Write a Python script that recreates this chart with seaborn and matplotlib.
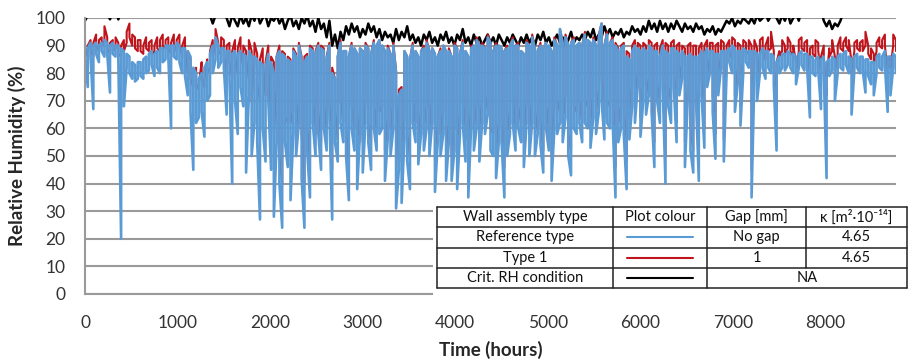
import pandas as pd
import seaborn as sns
import matplotlib.pyplot as plt
from matplotlib.patches import Rectangle
from matplotlib.lines import Line2D

# time axis: one reading every 30 h over the year
hours = list(range(0, 8761, 30))

# Reference type (blue): highest and lowest RH inside each 30 h step
rh_ref_hi = [
    90, 89, 91, 90, 91, 90, 91, 92, 91, 90,
    91, 90, 90, 89, 88, 87, 86, 84, 83, 84,
    84, 85, 86, 87, 88, 87, 88, 89, 89, 90,
    90, 90, 90, 91, 90, 89, 89, 88, 86, 82,
    80, 78, 80, 82, 84, 87, 90, 93, 90, 89,
    89, 88, 88, 87, 88, 87, 88, 87, 86, 88,
    86, 86, 85, 84, 83, 82, 87, 84, 80, 86,
    88, 87, 86, 85, 84, 88, 86, 90, 85, 84,
    86, 89, 88, 87, 90, 89, 88, 85, 90, 80,
    78, 86, 91, 88, 88, 86, 90, 89, 87, 89,
    88, 90, 89, 87, 91, 90, 92, 90, 88, 89,
    87, 90, 80, 72, 74, 88, 86, 85, 90, 88,
    86, 88, 89, 91, 88, 89, 87, 86, 88, 90,
    88, 88, 86, 90, 89, 87, 91, 88, 86, 89,
    90, 92, 90, 90, 89, 93, 91, 88, 90, 90,
    89, 88, 89, 90, 92, 90, 90, 88, 87, 91,
    90, 93, 89, 88, 90, 89, 91, 90, 88, 92,
    90, 96, 91, 93, 90, 91, 92, 90, 91, 90,
    94, 92, 91, 92, 90, 93, 98, 90, 94, 91,
    92, 90, 88, 89, 90, 86, 85, 88, 90, 89,
    88, 89, 88, 90, 89, 88, 88, 86, 90, 88,
    87, 89, 89, 88, 87, 88, 86, 86, 87, 86,
    86, 86, 88, 87, 89, 88, 88, 87, 87, 88,
    88, 88, 89, 90, 89, 88, 88, 89, 88, 88,
    88, 88, 87, 87, 89, 88, 88, 87, 86, 84,
    86, 87, 87, 88, 87, 87, 86, 87, 88, 87,
    87, 86, 86, 85, 86, 85, 86, 84, 85, 86,
    85, 86, 87, 87, 88, 86, 85, 86, 87, 86,
    86, 85, 85, 84, 84, 86, 87, 86, 88, 86,
    86, 87, 86,
]
rh_ref_lo = [
    85, 75, 86, 67, 87, 84, 88, 86, 87, 73,
    87, 86, 85, 20, 68, 82, 80, 78, 77, 78,
    79, 78, 80, 81, 83, 79, 82, 80, 84, 85,
    86, 60, 86, 85, 84, 80, 79, 72, 66, 45,
    62, 64, 66, 57, 70, 72, 80, 85, 82, 84,
    82, 65, 78, 40, 70, 58, 75, 68, 44, 72,
    50, 62, 55, 27, 60, 48, 70, 45, 28, 55,
    40, 24, 55, 46, 34, 58, 50, 62, 42, 24,
    52, 35, 62, 50, 58, 45, 60, 52, 64, 27,
    55, 48, 62, 55, 50, 34, 60, 52, 38, 58,
    44, 62, 55, 45, 60, 52, 58, 60, 41, 56,
    50, 60, 31, 45, 33, 56, 48, 38, 62, 55,
    47, 58, 52, 60, 50, 62, 37, 55, 50, 58,
    41, 55, 41, 52, 38, 58, 62, 48, 35, 60,
    52, 60, 48, 62, 58, 65, 52, 50, 42, 55,
    55, 35, 50, 58, 62, 52, 60, 55, 46, 62,
    50, 62, 50, 58, 54, 44, 60, 52, 41, 60,
    58, 62, 55, 64, 50, 43, 60, 58, 62, 55,
    62, 60, 53, 64, 58, 66, 70, 56, 62, 60,
    62, 35, 55, 60, 58, 38, 56, 68, 62, 75,
    57, 70, 65, 72, 66, 46, 70, 62, 75, 40,
    68, 62, 75, 55, 72, 78, 46, 70, 52, 44,
    70, 41, 72, 53, 75, 80, 66, 49, 72, 82,
    48, 80, 84, 80, 66, 76, 61, 80, 84, 82,
    35, 78, 70, 80, 82, 78, 82, 80, 76, 52,
    80, 82, 81, 83, 82, 80, 76, 82, 83, 81,
    82, 64, 80, 79, 81, 67, 80, 42, 79, 81,
    70, 80, 82, 81, 83, 80, 65, 81, 82, 80,
    81, 73, 79, 76, 72, 80, 82, 81, 83, 66,
    72, 82, 80,
]

# Type 1 (red): highest and lowest RH inside each 30 h step
rh_t1_hi = [
    93, 90, 92, 91, 94, 92, 93, 97, 93, 91,
    92, 93, 91, 90, 92, 95, 98, 94, 93, 92,
    92, 90, 93, 91, 92, 90, 93, 92, 94, 92,
    93, 91, 94, 92, 94, 90, 93, 88, 85, 80,
    82, 76, 84, 78, 85, 88, 92, 96, 91, 93,
    92, 90, 91, 88, 92, 89, 93, 90, 88, 92,
    88, 91, 87, 85, 89, 84, 90, 86, 84, 86,
    90, 88, 87, 86, 85, 89, 87, 91, 86, 86,
    87, 90, 89, 88, 91, 90, 89, 86, 91, 82,
    78, 86, 92, 88, 88, 86, 91, 89, 87, 89,
    88, 91, 89, 87, 92, 90, 92, 90, 88, 90,
    87, 91, 81, 74, 75, 88, 86, 85, 91, 88,
    86, 88, 90, 92, 88, 89, 87, 86, 89, 90,
    88, 89, 86, 91, 89, 87, 92, 88, 86, 90,
    90, 93, 90, 91, 89, 94, 91, 88, 91, 90,
    89, 88, 90, 90, 93, 90, 91, 88, 87, 92,
    90, 94, 89, 88, 91, 89, 91, 90, 88, 93,
    90, 96, 91, 94, 90, 91, 93, 90, 91, 90,
    95, 92, 91, 93, 90, 94, 98, 90, 95, 91,
    93, 91, 89, 90, 91, 88, 87, 90, 92, 91,
    90, 91, 90, 92, 91, 90, 91, 89, 92, 91,
    90, 91, 92, 90, 91, 90, 89, 90, 91, 90,
    90, 89, 91, 90, 92, 91, 91, 90, 91, 92,
    91, 90, 92, 93, 92, 91, 90, 92, 91, 92,
    90, 92, 89, 92, 93, 90, 93, 95, 88, 84,
    88, 92, 90, 93, 91, 90, 84, 92, 93, 91,
    92, 89, 90, 92, 91, 86, 90, 78, 89, 92,
    86, 90, 93, 91, 93, 92, 84, 91, 92, 91,
    92, 95, 90, 89, 87, 91, 93, 92, 94, 84,
    86, 94, 92,
]
rh_t1_lo = [
    89, 86, 88, 86, 90, 88, 89, 92, 89, 87,
    88, 89, 87, 86, 88, 91, 93, 90, 89, 88,
    88, 87, 89, 88, 88, 87, 89, 88, 90, 89,
    89, 87, 90, 88, 90, 86, 89, 80, 78, 75,
    76, 74, 78, 75, 80, 82, 86, 90, 87, 88,
    86, 80, 84, 78, 86, 80, 88, 82, 78, 85,
    70, 84, 76, 70, 82, 72, 85, 62, 58, 75,
    50, 40, 62, 64, 62, 66, 58, 70, 58, 40,
    60, 48, 70, 58, 66, 55, 68, 60, 70, 45,
    66, 56, 70, 62, 60, 45, 68, 60, 50, 66,
    55, 70, 62, 55, 68, 60, 66, 68, 52, 64,
    60, 68, 45, 72, 48, 64, 58, 50, 70, 62,
    56, 66, 60, 68, 58, 70, 48, 62, 58, 66,
    52, 62, 50, 60, 48, 66, 70, 56, 46, 68,
    60, 68, 56, 70, 66, 72, 60, 58, 52, 62,
    62, 46, 58, 66, 70, 60, 68, 62, 55, 70,
    58, 70, 58, 66, 62, 52, 68, 60, 50, 68,
    66, 70, 62, 72, 58, 52, 68, 66, 70, 62,
    70, 68, 60, 72, 66, 74, 78, 64, 70, 68,
    70, 46, 62, 68, 66, 48, 64, 76, 70, 80,
    64, 76, 72, 78, 72, 55, 76, 70, 80, 50,
    75, 70, 80, 62, 78, 83, 55, 76, 60, 52,
    76, 50, 78, 60, 80, 85, 72, 58, 78, 86,
    56, 85, 88, 85, 72, 82, 68, 86, 88, 87,
    45, 86, 76, 87, 88, 85, 88, 89, 82, 66,
    86, 88, 87, 89, 88, 86, 80, 88, 89, 88,
    88, 76, 87, 86, 88, 80, 86, 72, 86, 88,
    80, 87, 89, 88, 90, 88, 80, 88, 89, 88,
    88, 90, 87, 85, 83, 88, 90, 89, 90, 80,
    82, 90, 88,
]

# critical RH condition (black), goes above 100 outside summer
rh_crit = [
    99, 101, 102, 103, 102, 103, 104, 103, 102, 99.5,
    103, 104, 99.5, 103, 104, 103, 104, 103, 104, 104,
    104, 103, 104, 105, 104, 103, 104, 105, 104, 103,
    104, 103, 102, 103, 104, 103, 102, 103, 101, 102,
    101, 102, 101, 100.5, 102, 101, 98, 101, 102, 101,
    101, 100, 97, 101, 99, 97, 101, 98, 100, 97,
    101, 99, 102, 98, 100, 101, 97, 100, 99, 101,
    98, 100, 96, 99, 101, 97, 99, 96, 100, 98,
    101, 97, 99, 95, 100, 96, 98, 93, 99, 90,
    94, 89, 95, 92, 97, 94, 98, 95, 97, 93,
    96, 94, 98, 95, 97, 93, 96, 92, 95, 93,
    94, 91, 96, 92, 95, 93, 97, 92, 94, 91,
    93, 90, 94, 92, 95, 91, 93, 90, 94, 92,
    95, 91, 93, 90, 94, 92, 96, 91, 93, 90,
    94, 91, 93, 90, 92, 94, 91, 93, 90, 94,
    92, 90, 93, 91, 94, 92, 90, 93, 91, 94,
    91, 93, 90, 94, 92, 95, 91, 93, 90, 92,
    94, 91, 93, 90, 92, 95, 91, 93, 92, 94,
    92, 95, 93, 96, 92, 94, 93, 97, 94, 96,
    93, 95, 94, 96, 93, 95, 94, 97, 95, 96,
    94, 97, 95, 99, 96, 98, 95, 99, 96, 98,
    95, 98, 96, 99, 97, 95, 98, 96, 97, 95,
    98, 96, 97, 94, 96, 95, 97, 94, 96, 95,
    97, 99, 98, 100, 97, 99, 98, 100, 99, 98,
    100, 98, 101, 99, 100, 102, 99, 101, 103, 100,
    98, 101, 99, 102, 98, 100, 102, 99, 103, 101,
    102, 104, 103, 102, 104, 103, 99, 97, 99, 96,
    98, 97, 99, 102, 103, 104, 103, 104, 105, 104,
    103, 104, 105, 104, 103, 104, 105, 104, 103, 104,
    103, 104, 103,
]

table_header = ["Wall assembly type", "Plot colour", "Gap [mm]", "κ [m²·10⁻¹⁴]"]
table_rows = [
    ["Reference type", "No gap", "4.65"],
    ["Type 1", "1", "4.65"],
    ["Crit. RH condition", "NA"],
]

c_ref = "#5b9bd5"
c_t1 = "#c0141c"
c_crit = "#000000"
grid_c = "#9a9a9a"


def zigzag(hi, lo):
    # within each step go high->low, then low->high in the next one
    rows = []
    for i, h in enumerate(hours):
        pair = [hi[i], lo[i]] if i % 2 == 0 else [lo[i], hi[i]]
        for v in pair:
            rows.append({"hours": h, "rh": v})
    return pd.DataFrame(rows)


df_ref = zigzag(rh_ref_hi, rh_ref_lo)
df_t1 = zigzag(rh_t1_hi, rh_t1_lo)
df_crit = pd.DataFrame({"hours": hours, "rh": rh_crit})

sns.set_style("white")
plt.rcParams["font.family"] = ["Lato", "DejaVu Sans"]

W, H = 913, 362
fig = plt.figure(figsize=(W / 100, H / 100), dpi=100)
ax = fig.add_axes([85 / W, 1 - 294 / H, (896 - 85) / W, (294 - 18) / H])

sns.lineplot(data=df_crit, x="hours", y="rh", color=c_crit, lw=1.8, ax=ax)
sns.lineplot(data=df_t1, x="hours", y="rh", color=c_t1, lw=1.5, sort=False,
             estimator=None, ax=ax)
sns.lineplot(data=df_ref, x="hours", y="rh", color=c_ref, lw=1.9, sort=False,
             estimator=None, ax=ax)

ax.set_xlim(0, 8760)
ax.set_ylim(0, 100)
ax.set_xticks(range(0, 8001, 1000))
ax.set_yticks(range(0, 101, 10))
ax.set_axisbelow(True)
ax.grid(axis="y", color=grid_c, lw=1.5)
for s in ["top", "right"]:
    ax.spines[s].set_visible(False)
for s in ["left", "bottom"]:
    ax.spines[s].set_color(grid_c)
    ax.spines[s].set_linewidth(1.5)
ax.tick_params(axis="both", colors=grid_c, length=4, width=1.2, labelsize=12.5,
               labelcolor="#333333", direction="out")
ax.tick_params(axis="y", pad=10)
ax.tick_params(axis="x", pad=11)
ax.set_xlabel("Time (hours)", fontsize=13.5, fontweight="bold", labelpad=7)
ax.set_ylabel("Relative Humidity (%)", fontsize=13.5, fontweight="bold", labelpad=7)


# table drawn in pixel coordinates of the figure
def fx(px):
    return px / W


def fy(py):
    return 1 - py / H


fig.patches.append(Rectangle((fx(433), fy(298)), fx(913) - fx(433), fy(202) - fy(298),
                             transform=fig.transFigure, facecolor="white", edgecolor="none",
                             zorder=5))
x0, x1, x2, x3, x4 = 437, 613, 707, 806, 907
ys = [207, 227, 247.5, 268, 288]
lc = "#222222"


def hline(xa, xb, y):
    fig.lines.append(Line2D([fx(xa), fx(xb)], [fy(y), fy(y)], transform=fig.transFigure,
                            color=lc, lw=1.1, zorder=6))


def vline(x, ya, yb):
    fig.lines.append(Line2D([fx(x), fx(x)], [fy(ya), fy(yb)], transform=fig.transFigure,
                            color=lc, lw=1.1, zorder=6))


for y in ys:
    hline(x0, x4, y)
for x in [x0, x1, x2, x4]:
    vline(x, ys[0], ys[-1])
vline(x3, ys[0], ys[3])

centers = [(x0 + x1) / 2, (x1 + x2) / 2, (x2 + x3) / 2, (x3 + x4) / 2]
rc = [(ys[i] + ys[i + 1]) / 2 for i in range(4)]
tkw = dict(transform=fig.transFigure, ha="center", va="center", fontsize=10.5,
           color="#111111", zorder=7)
for cx, t in zip(centers, table_header):
    fig.text(fx(cx), fy(rc[0]), t, **tkw)
for i, row in enumerate(table_rows):
    fig.text(fx(centers[0]), fy(rc[i + 1]), row[0], **tkw)
    if len(row) == 3:
        fig.text(fx(centers[2]), fy(rc[i + 1]), row[1], **tkw)
        fig.text(fx(centers[3]), fy(rc[i + 1]), row[2], **tkw)
    else:
        fig.text(fx((x2 + x4) / 2), fy(rc[i + 1]), row[1], **tkw)
for i, c in enumerate([c_ref, c_t1, c_crit]):
    fig.lines.append(Line2D([fx(centers[1] - 33), fx(centers[1] + 33)],
                            [fy(rc[i + 1]), fy(rc[i + 1])], transform=fig.transFigure,
                            color=c, lw=1.5, zorder=7))

fig.savefig("out.png", dpi=100)
